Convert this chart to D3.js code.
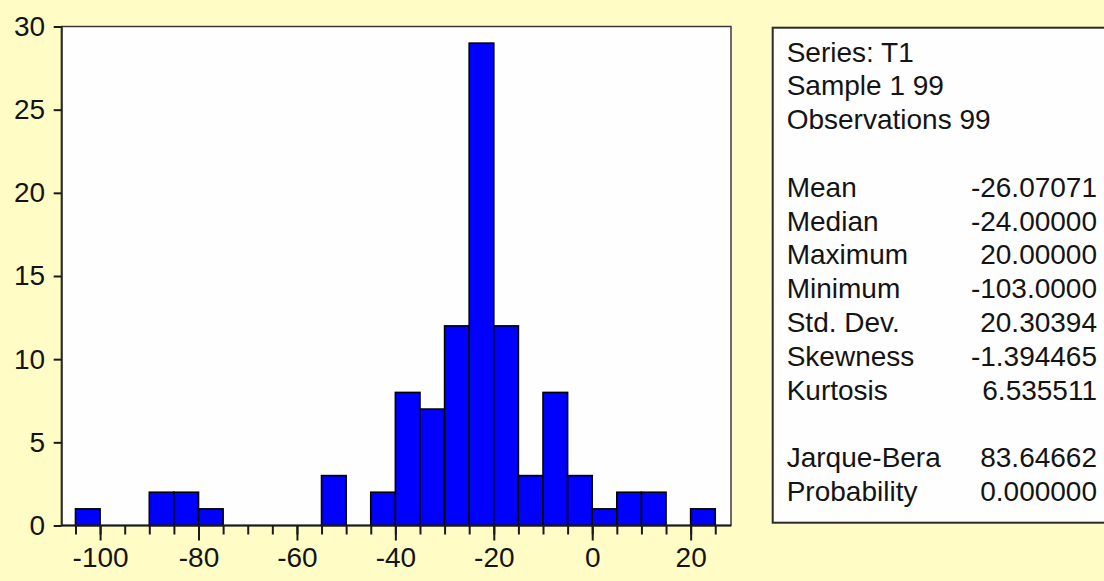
<!DOCTYPE html>
<html><head><meta charset="utf-8">
<script src="https://cdn.jsdelivr.net/npm/d3@7"></script>
<style>
html,body{margin:0;padding:0;background:#fffdc5;}
svg{display:block;}
text{font-family:"Liberation Sans",Arial,sans-serif;fill:#141414;}
</style>
</head><body>
<svg id="chart" width="1104" height="581"></svg>
<script>
// ---- data ----
const binStarts = [-105,-100,-95,-90,-85,-80,-75,-70,-65,-60,-55,-50,-45,-40,-35,-30,-25,-20,-15,-10,-5,0,5,10,15,20];
const binWidth = 5;
const counts = [1,0,0,2,2,1,0,0,0,0,3,0,2,8,7,12,29,12,3,8,3,1,2,2,0,1];
const xMajorTicks = [-100,-80,-60,-40,-20,0,20];
const xMinorTicks = [-105,-100,-95,-90,-85,-80,-75,-70,-65,-60,-55,-50,-45,-40,-35,-30,-25,-20,-15,-10,-5,0,5,10,15,20,25];
const yTicks = [0,5,10,15,20,25,30];
const headerLines = ["Series: T1","Sample 1 99","Observations 99"];
const statLabels = ["Mean","Median","Maximum","Minimum","Std. Dev.","Skewness","Kurtosis"];
const statValues = ["-26.07071","-24.00000","20.00000","-103.0000","20.30394","-1.394465","6.535511"];
const testLabels = ["Jarque-Bera","Probability"];
const testValues = ["83.64662","0.000000"];

// ---- layout ----
const svg = d3.select("#chart");
const plot = {left:61.7, right:731, top:26.5, bottom:525.5};
const x = d3.scaleLinear().domain([-107.8, 28.2]).range([plot.left, plot.right]);
const y = d3.scaleLinear().domain([0, 30]).range([plot.bottom, plot.top]);
const FS = 28;

// plot background
svg.append("rect")
  .attr("x", plot.left).attr("y", plot.top)
  .attr("width", plot.right - plot.left).attr("height", plot.bottom - plot.top)
  .attr("fill", "#fefefe").attr("stroke", "#3a3a3a").attr("stroke-width", 1.5);

// bars
svg.append("g").selectAll("rect")
  .data(binStarts.map((s,i)=>({s, c:counts[i]})).filter(d=>d.c>0))
  .join("rect")
  .attr("x", d=>x(d.s))
  .attr("width", d=>x(d.s+binWidth)-x(d.s))
  .attr("y", d=>y(d.c))
  .attr("height", d=>y(0)-y(d.c))
  .attr("fill", "#0000ff")
  .attr("stroke", "#000")
  .attr("stroke-width", 1.6);

// left & bottom frame lines (darker)
svg.append("line").attr("x1", plot.left).attr("x2", plot.left).attr("y1", plot.top).attr("y2", plot.bottom)
  .attr("stroke", "#2a2a2a").attr("stroke-width", 2);
svg.append("line").attr("x1", plot.left).attr("x2", plot.right).attr("y1", plot.bottom).attr("y2", plot.bottom)
  .attr("stroke", "#1a1a1a").attr("stroke-width", 2.2);

// x axis: minor ticks
const xMinor = svg.append("g").attr("transform", `translate(0,${plot.bottom})`)
  .call(d3.axisBottom(x).tickValues(xMinorTicks).tickSize(9).tickFormat(""));
// x axis: major ticks with labels
const xMajor = svg.append("g").attr("transform", `translate(0,${plot.bottom})`)
  .call(d3.axisBottom(x).tickValues(xMajorTicks).tickSize(15).tickPadding(7).tickFormat(d3.format("d")));
// y axis
const yAxis = svg.append("g").attr("transform", `translate(${plot.left},0)`)
  .call(d3.axisLeft(y).tickValues(yTicks).tickSize(8).tickPadding(8.5).tickFormat(d3.format("d")));

[xMinor, xMajor, yAxis].forEach(g=>{
  g.select(".domain").remove();
  g.selectAll(".tick line").attr("stroke", "#1a1a1a").attr("stroke-width", 2);
  g.selectAll(".tick text").attr("font-size", FS).attr("font-family", "Liberation Sans, Arial, sans-serif").attr("fill", "#141414");
});
xMajor.selectAll(".tick text").text(d => d < 0 ? "-" + Math.abs(d) : d);

// stats box
const box = {x:772.7, y:27.7, w:340, h:495};
svg.append("rect").attr("x", box.x).attr("y", box.y).attr("width", box.w).attr("height", box.h)
  .attr("fill", "#fefefe").attr("stroke", "#2a2a2a").attr("stroke-width", 2);

const lh = 33.8, base0 = 61.5, tx = 786.7, vx = 1097;
const sg = svg.append("g").attr("font-size", FS);
headerLines.forEach((t,i)=>{
  sg.append("text").attr("x", tx).attr("y", base0 + i*lh).text(t);
});
statLabels.forEach((t,i)=>{
  sg.append("text").attr("x", tx).attr("y", base0 + (4+i)*lh).text(t);
  sg.append("text").attr("x", vx).attr("y", base0 + (4+i)*lh).attr("text-anchor","end").text(statValues[i]);
});
testLabels.forEach((t,i)=>{
  sg.append("text").attr("x", tx).attr("y", base0 + (12+i)*lh).text(t);
  sg.append("text").attr("x", vx).attr("y", base0 + (12+i)*lh).attr("text-anchor","end").text(testValues[i]);
});
</script>
</body></html>
